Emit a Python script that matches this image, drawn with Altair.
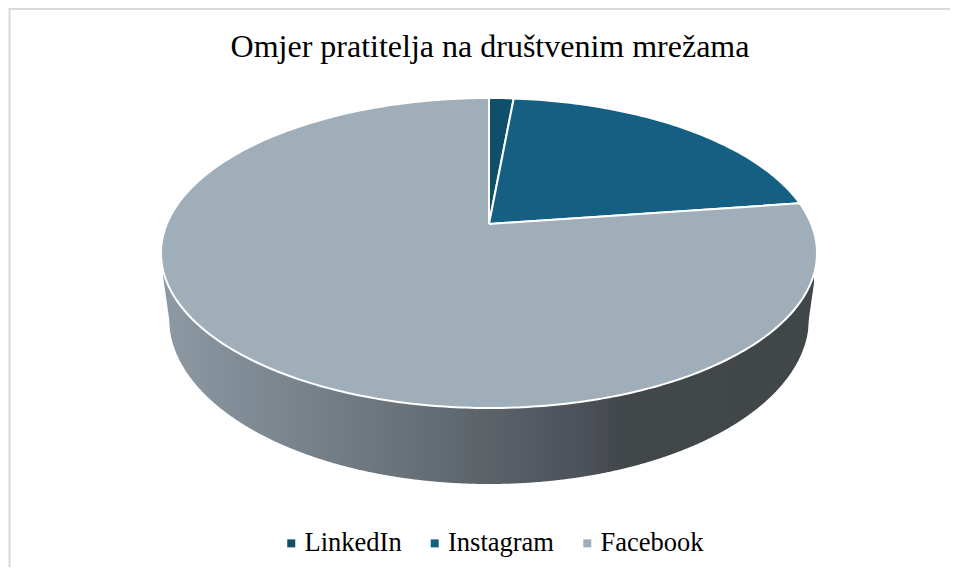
import math
import altair as alt
import pandas as pd

names = ["LinkedIn", "Instagram", "Facebook"]
shares = [1.2, 18.6, 80.2]
colours = ["#0f4f6b", "#156082", "#a0aeb9"]
title_text = "Omjer pratitelja na društvenim mrežama"

CX, CY, RX, RY = 489, 253, 328, 155
AX, AY = 489, 224
LCY, LRX, LRY = 318, 320, 166

# sectors of the tilted top surface, derived from the shares
rows = []
cum = 0.0
for name, share in zip(names, shares):
    start, end = cum, cum + share
    cum = end
    n = max(3, int(share * 4))
    pts = [(AX, AY)]
    for k in range(n + 1):
        t = 2 * math.pi * (start + (end - start) * k / n) / 100
        pts.append((CX + RX * math.sin(t), CY - RY * math.cos(t)))
    pts.append((AX, AY))
    for i, (x, y) in enumerate(pts):
        rows.append({"name": name, "i": i, "x": x, "y": y})
sectors = pd.DataFrame(rows)

# rim below the top surface
side_rows = []
for px in range(163, 815):
    dx = (px - CX) / RX
    top = CY + RY * math.sqrt(max(0, 1 - dx * dx)) - 4
    lx = (px - CX) / LRX
    if abs(lx) < 1:
        low = LCY + LRY * math.sqrt(1 - lx * lx)
    else:
        low = LCY - (abs(px - CX) - LRX) * 7
    side_rows.append({"x": px, "y": top, "y2": max(low, top)})
side = pd.DataFrame(side_rows)

X = alt.X("x:Q", axis=None, scale=alt.Scale(domain=[8, 950]))
Y = alt.Y("y:Q", axis=None, scale=alt.Scale(domain=[567, 8]))

frame_left = (
    alt.Chart(pd.DataFrame({"x": [9.5], "y": [8], "y2": [567]}))
    .mark_rule(color="#d9d9d9", strokeWidth=2)
    .encode(x=X, y=Y, y2="y2:Q")
)
frame_top = (
    alt.Chart(pd.DataFrame({"x": [9], "x2": [950], "y": [9]}))
    .mark_rule(color="#d9d9d9", strokeWidth=2)
    .encode(x=X, x2="x2:Q", y=Y)
)

rim = (
    alt.Chart(side)
    .mark_area(
        color=alt.Gradient(
            gradient="linear", x1=0, x2=1, y1=0, y2=0,
            stops=[
                alt.GradientStop(color="#8d9aa3", offset=0),
                alt.GradientStop(color="#7a858e", offset=0.19),
                alt.GradientStop(color="#60696f", offset=0.45),
                alt.GradientStop(color="#4c5058", offset=0.648),
                alt.GradientStop(color="#42474a", offset=0.71),
                alt.GradientStop(color="#414649", offset=1),
            ],
        )
    )
    .encode(x=X, y=Y, y2="y2:Q")
)

pie = (
    alt.Chart(sectors)
    .mark_line(stroke="white", strokeWidth=2, interpolate="linear", filled=True)
    .encode(
        x=X, y=Y,
        order="i:Q",
        fill=alt.Fill(
            "name:N",
            scale=alt.Scale(domain=names, range=colours),
            legend=alt.Legend(
                title=None, orient="none", direction="horizontal",
                legendX=270, legendY=522,
                symbolType="square", symbolSize=64, symbolStrokeWidth=0,
                labelFont="Liberation Serif", labelFontSize=26.5, labelColor="#000000",
                columnPadding=19.5, labelOffset=0, symbolOpacity=1,
            ),
        ),
    )
)

title = (
    alt.Chart(pd.DataFrame({"x": [490], "y": [57], "t": [title_text]}))
    .mark_text(font="Liberation Serif", fontSize=32, color="#000000", align="center", baseline="alphabetic")
    .encode(x=X, y=Y, text="t:N")
)

chart = (
    alt.layer(frame_left, frame_top, rim, pie, title)
    .properties(width=942, height=559, padding=0, autosize=alt.AutoSizeParams(type="none"))
    .configure_view(stroke=None)
)
chart.save("out.html", embed_options={"renderer": "svg", "actions": False})
